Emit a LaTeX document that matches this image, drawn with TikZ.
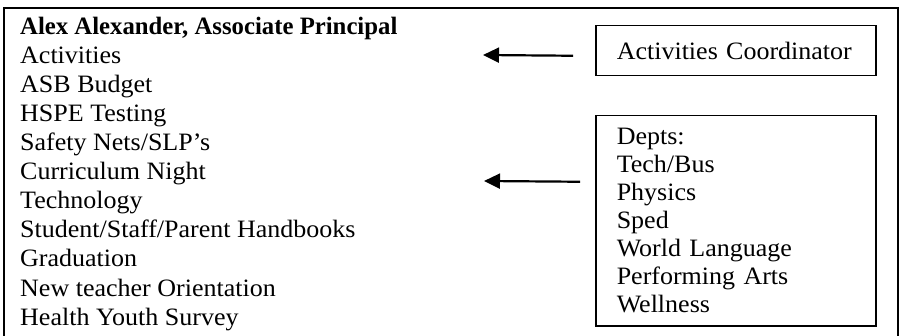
\documentclass[tikz,border=0pt]{standalone}
\usepackage{fontspec}
\setmainfont{Liberation Serif}[FakeStretch=1.04]
\newfontfamily\headfont{Liberation Serif}[FakeStretch=0.99]
\usetikzlibrary{arrows.meta}
\begin{document}
\begin{tikzpicture}[x=1pt,y=-1pt,
  every node/.style={font=\fontsize{25}{28}\selectfont},
  item/.style={anchor=base west, inner sep=0pt},
  rolebox/.style={draw, line width=1.5pt, anchor=north west, minimum width=280pt, inner xsep=21pt, align=left, text width=238pt},
  arr/.style={line width=2.2pt, -{Triangle[length=16pt,width=15pt]}}]
\useasboundingbox (0,0) rectangle (901,336);
\draw[line width=2.4pt] (4,336) -- (4,8) -- (898,8) -- (898,336);
\node[item] (l1) at (20,35) {\headfont\bfseries Alex Alexander, Associate Principal};
\node[item] (l2) at (20,64) {Activities};
\node[item] (l3) at (20,93) {ASB Budget};
\node[item] (l4) at (20,122) {HSPE Testing};
\node[item] (l5) at (20,151) {Safety Nets/SLP’s};
\node[item] (l6) at (20,180) {Curriculum Night};
\node[item] (l7) at (20,209) {Technology};
\node[item] (l8) at (20,238) {Student/Staff/Parent Handbooks};
\node[item] (l9) at (20,267) {Graduation};
\node[item] (l10) at (20,296) {New teacher Orientation};
\node[item] (l11) at (20,325) {Health Youth Survey};
\node[rolebox, minimum height=50pt] (ac) at (595,25) {Activities Coordinator};
\node[rolebox, minimum height=210pt] (dp) at (595,115) {Depts:\\Tech/Bus\\Physics\\Sped\\World Language\\Performing Arts\\Wellness};
\coordinate (t1) at (483,55);
\coordinate (t2) at (484,181);
\draw[arr] ([xshift=-22pt,yshift=-5pt]ac.west) -- (t1);
\draw[arr] ([xshift=-15pt,yshift=39pt]dp.west) -- (t2);
\end{tikzpicture}
\end{document}
